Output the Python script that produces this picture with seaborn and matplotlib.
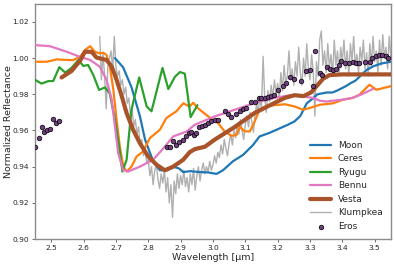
import numpy as np
import pandas as pd
import matplotlib
matplotlib.use("Agg")
import matplotlib.pyplot as plt
import seaborn as sns

# ---------------- data ----------------
moon_x = [2.697, 2.722, 2.748, 2.774, 2.790, 2.815, 2.836, 2.860, 2.877, 2.895, 2.908, 2.930,
          2.959, 2.985, 3.011, 3.031, 3.062, 3.093, 3.124, 3.144, 3.175, 3.208, 3.232, 3.252,
          3.270, 3.290, 3.311, 3.323, 3.352, 3.370, 3.383, 3.410, 3.424, 3.440, 3.455, 3.475,
          3.496, 3.520, 3.550]
moon_y = [1.000, 0.995, 0.984, 0.968, 0.955, 0.943, 0.938, 0.938, 0.940, 0.939, 0.937, 0.9375,
          0.937, 0.9368, 0.936, 0.938, 0.943, 0.9465, 0.952, 0.9567, 0.9587, 0.9613, 0.9632, 0.965,
          0.968, 0.975, 0.978, 0.980, 0.981, 0.981, 0.982, 0.9844, 0.986, 0.9875, 0.990, 0.9935,
          0.9955, 0.997, 0.998]

ceres_x = [2.450, 2.486, 2.517, 2.548, 2.568, 2.589, 2.604, 2.620, 2.635, 2.650, 2.661, 2.671,
           2.681, 2.692, 2.702, 2.712, 2.723, 2.733, 2.748, 2.764, 2.784, 2.805, 2.836, 2.856,
           2.887, 2.908, 2.928, 2.939, 2.954, 2.985, 3.016, 3.036, 3.057, 3.073, 3.083, 3.098,
           3.114, 3.129, 3.144, 3.165, 3.190, 3.222, 3.252, 3.278, 3.299, 3.330, 3.371, 3.402,
           3.432, 3.453, 3.484, 3.505, 3.550]
ceres_y = [0.998, 0.998, 0.9993, 0.999, 0.9989, 1.0007, 1.0044, 1.0066, 1.0035, 1.0026, 1.003, 1.0017,
           0.9955, 0.9826, 0.966, 0.9511, 0.940, 0.9373, 0.940, 0.9456, 0.9484, 0.9558, 0.9604, 0.9669,
           0.9706, 0.975, 0.9733, 0.9753, 0.9722, 0.9678, 0.964, 0.9595, 0.957, 0.9576, 0.962, 0.9595,
           0.9595, 0.965, 0.9715, 0.9733, 0.9740, 0.9745, 0.9733, 0.9715, 0.9724, 0.9742, 0.975, 0.977,
           0.978, 0.9798, 0.9853, 0.9825, 0.9845]

ryugu_x = [2.450, 2.470, 2.491, 2.506, 2.525, 2.543, 2.563, 2.584, 2.599, 2.614, 2.630, 2.648,
           2.666, 2.681, 2.697, 2.710, 2.720, 2.733, 2.748, 2.772, 2.795, 2.810, 2.844, 2.862,
           2.882, 2.898, 2.913, 2.931, 2.952]
ryugu_y = [0.988, 0.9859, 0.9873, 0.9873, 0.995, 0.992, 0.9946, 0.999, 0.9957, 0.9962, 0.9907, 0.9824,
           0.9838, 0.9805, 0.9659, 0.9511, 0.9373, 0.9438, 0.9715, 0.9893, 0.9733, 0.9706, 0.9946, 0.9829,
           0.9896, 0.9923, 0.9914, 0.9674, 0.9740]

bennu_x = [2.450, 2.496, 2.548, 2.589, 2.620, 2.650, 2.671, 2.687, 2.697, 2.707, 2.722, 2.738,
           2.774, 2.815, 2.846, 2.877, 2.918, 2.944, 3.006, 3.068, 3.129, 3.190, 3.240, 3.270,
           3.310, 3.330, 3.350, 3.373, 3.400, 3.430, 3.460, 3.495]
bennu_y = [1.0072, 1.0066, 1.0035, 1.0007, 0.999, 0.9953, 0.988, 0.977, 0.9622, 0.9475, 0.9382, 0.9373,
           0.940, 0.9438, 0.950, 0.9567, 0.9594, 0.9632, 0.9678, 0.9715, 0.9752, 0.978, 0.9795, 0.979,
           0.978, 0.9765, 0.976, 0.9765, 0.977, 0.978, 0.980, 0.983]

vesta_x = [2.532, 2.563, 2.589, 2.604, 2.625, 2.640, 2.671, 2.687, 2.702, 2.718, 2.733, 2.753,
           2.774, 2.800, 2.826, 2.851, 2.877, 2.908, 2.928, 2.944, 2.975, 3.006, 3.068, 3.129,
           3.190, 3.222, 3.252, 3.280, 3.303, 3.323, 3.340, 3.360, 3.400, 3.450, 3.550]
vesta_y = [0.9893, 0.9929, 0.9985, 1.0035, 1.0035, 1.0003, 0.999, 0.9953, 0.988, 0.979, 0.9696, 0.9604,
           0.953, 0.9456, 0.941, 0.938, 0.940, 0.9438, 0.948, 0.9497, 0.951, 0.955, 0.962, 0.9697,
           0.9752, 0.978, 0.9795, 0.979, 0.981, 0.985, 0.9885, 0.9906, 0.991, 0.991, 0.991]

klump_x0, klump_step = 2.650, 0.005
klump_y = [1.012, 0.988, 1.003, 0.990, 0.972, 0.995, 1.000, 1.004, 0.993, 1.012,
           0.995, 0.990, 0.993, 0.985, 0.988, 0.980, 0.984, 0.975, 0.978, 0.968,
           0.972, 0.962, 0.966, 0.958, 0.962, 0.952, 0.955, 0.946, 0.950, 0.942,
           0.944, 0.935, 0.940, 0.930, 0.938, 0.941, 0.933, 0.928, 0.936, 0.931,
           0.938, 0.926, 0.934, 0.920, 0.930, 0.912, 0.932, 0.925, 0.936, 0.928,
           0.935, 0.930, 0.938, 0.929, 0.934, 0.926, 0.936, 0.930, 0.939, 0.927,
           0.935, 0.940, 0.932, 0.938, 0.942, 0.936, 0.940, 0.937, 0.943, 0.938,
           0.941, 0.946, 0.942, 0.948, 0.945, 0.952, 0.947, 0.955, 0.950, 0.946,
           0.953, 0.958, 0.952, 0.960, 0.956, 0.963, 0.958, 0.966, 0.960, 0.955,
           0.963, 0.968, 0.962, 0.970, 0.965, 0.959, 0.968, 0.975, 0.970, 0.978,
           0.972, 1.001, 0.978, 0.970, 0.982, 0.976, 0.985, 0.978, 0.988, 0.980,
           0.986, 0.978, 0.992, 0.982, 0.996, 0.986, 0.990, 1.004, 0.988, 0.994,
           0.985, 0.998, 0.990, 1.006, 0.992, 0.985, 1.000, 0.990, 1.008, 0.994,
           0.988, 1.002, 0.993, 0.968, 0.998, 0.990, 1.010, 1.015, 0.996, 1.004,
           0.992, 1.008, 0.995, 1.002, 0.990, 1.010, 0.996, 1.004, 0.992, 1.006,
           0.998, 1.010, 0.994, 1.004, 0.990, 1.008, 0.998, 1.012, 0.996, 1.002,
           0.992, 1.006, 0.998, 1.010, 0.994, 1.003, 0.990, 1.008, 0.996, 1.012,
           0.998, 1.004, 0.992, 1.010, 0.996, 1.013, 1.000, 1.006, 0.994, 1.012,
           1.000]
klump_x = [klump_x0 + i * klump_step for i in range(len(klump_y))]

eros_x = [2.450, 2.463, 2.470, 2.479, 2.488, 2.497, 2.506, 2.516, 2.525,
          2.858, 2.868, 2.877, 2.887, 2.895, 2.906, 2.916, 2.926, 2.933, 2.940, 2.947, 2.957,
          2.965, 2.975, 2.985, 2.995, 3.005, 3.015, 3.036, 3.046, 3.057, 3.072, 3.083, 3.093,
          3.103, 3.119, 3.129, 3.142, 3.150, 3.160, 3.170, 3.180, 3.190, 3.201, 3.216, 3.227,
          3.237, 3.252, 3.273, 3.289, 3.299, 3.310, 3.317, 3.330, 3.338, 3.352, 3.361, 3.371,
          3.380, 3.390, 3.397, 3.407, 3.420, 3.432, 3.443, 3.453, 3.469, 3.484, 3.492, 3.503,
          3.513, 3.523, 3.534, 3.540]
eros_y = [0.951, 0.9558, 0.9617, 0.959, 0.960, 0.961, 0.9663, 0.9644, 0.965,
          0.9508, 0.951, 0.954, 0.9517, 0.9539, 0.955, 0.9567, 0.9585, 0.959, 0.9576, 0.9585, 0.962,
          0.9625, 0.963, 0.9644, 0.9653, 0.9658, 0.966, 0.9706, 0.969, 0.9674, 0.969, 0.9706, 0.9718,
          0.9722, 0.9755, 0.976, 0.978, 0.9778, 0.978, 0.9785, 0.979, 0.9798, 0.9825, 0.9844, 0.9862,
          0.9893, 0.9887, 0.9871, 0.9929, 0.9935, 0.9844, 1.004, 0.9918, 0.9909, 0.9952, 0.994, 0.9935,
          0.9938, 0.996, 0.9985, 0.9972, 0.9972, 0.998, 0.9972, 0.9972, 0.9976, 0.998, 0.9998, 1.001,
          1.0017, 1.0017, 1.0013, 1.0003]

# ---------------- plot ----------------
sns.set_style("ticks")
plt.rcParams['font.family'] = ['DejaVu Sans']

fig = plt.figure(figsize=(3.94, 2.66), dpi=100)
ax = fig.add_axes([0.089, 0.1015, 0.903, 0.884])

lw = 1.6
sns.lineplot(x=moon_x, y=moon_y, ax=ax, color='tab:blue', lw=lw, label='Moon', zorder=3)
sns.lineplot(x=ceres_x, y=ceres_y, ax=ax, color='tab:orange', lw=lw, label='Ceres', zorder=3)
sns.lineplot(x=ryugu_x, y=ryugu_y, ax=ax, color='tab:green', lw=lw, label='Ryugu', zorder=3)
sns.lineplot(x=bennu_x, y=bennu_y, ax=ax, color='tab:pink', lw=lw, label='Bennu', zorder=3)
sns.lineplot(x=vesta_x, y=vesta_y, ax=ax, color='#a8532a', lw=3.0, label='Vesta', zorder=4)
sns.lineplot(x=klump_x, y=klump_y, ax=ax, color='#b0b0b0', lw=1.0, label='Klumpkea', zorder=2)
sns.scatterplot(x=eros_x, y=eros_y, ax=ax, color='#6f3f7f', edgecolor='black', linewidth=0.5,
                s=11, label='Eros', zorder=5)

ax.set_xlim(2.45, 3.55)
ax.set_ylim(0.90, 1.03)
ax.set_xticks([2.5, 2.6, 2.7, 2.8, 2.9, 3.0, 3.1, 3.2, 3.3, 3.4, 3.5])
ax.set_yticks([0.90, 0.92, 0.94, 0.96, 0.98, 1.00, 1.02])
ax.set_yticklabels(['0.90', '0.92', '0.94', '0.96', '0.98', '1.00', '1.02'])
ax.tick_params(labelsize=5.4, length=2.5, width=0.6, pad=2, color='#555555')
for s in ax.spines.values():
    s.set_color('#8c8c8c')
    s.set_linewidth(1.0)
ax.set_xlabel('Wavelength [µm]', fontsize=6.8, labelpad=1)
ax.set_ylabel('Normalized Reflectance', fontsize=6.8)
ax.yaxis.set_label_coords(-0.063, 0.5)

leg = ax.legend(loc='lower right', frameon=False, fontsize=6.5, handlelength=2.3,
                labelspacing=0.5, borderaxespad=0.5, handletextpad=0.75)

fig.savefig('out.png', dpi=100)
